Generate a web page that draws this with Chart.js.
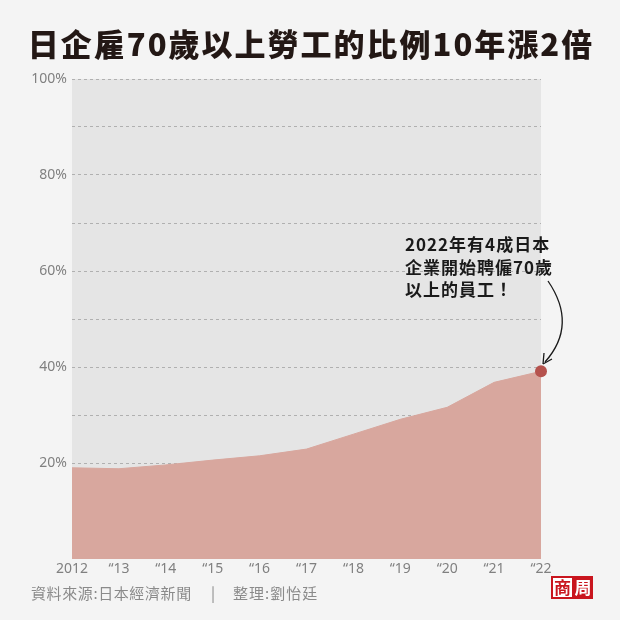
<!DOCTYPE html>
<html>
<head>
<meta charset="utf-8">
<script src="https://cdn.jsdelivr.net/npm/chart.js@4"></script>
<style>
  html, body { margin: 0; padding: 0; background: #f4f4f4; }
  #wrap { width: 620px; height: 620px; }
</style>
</head>
<body>
<div id="wrap"><canvas id="chart" width="620" height="620"></canvas></div>
<script>
// 資料
const years = ['2012', '\u201C13', '\u201C14', '\u201C15', '\u201C16', '\u201C17', '\u201C18', '\u201C19', '\u201C20', '\u201C21', '\u201C22'];
const ratio = [19.0, 18.8, 19.6, 20.6, 21.5, 22.9, 26.0, 29.1, 31.6, 36.8, 39.1];
const yTicks = [20, 40, 60, 80, 100];

const title = '日企雇70歲以上勞工的比例10年漲2倍';
const note = ['2022年有4成日本', '企業開始聘僱70歲', '以上的員工！'];
const source = '資料來源:日本經濟新聞';
const editor = '整理:劉怡廷';

const cjk = '"Noto Sans CJK TC", "Noto Sans", sans-serif';

function spacing(c, v) {
  if ('letterSpacing' in c) c.letterSpacing = v;
}

// 背景、標題、註解
const decor = {
  id: 'decor',
  beforeDraw(chart) {
    const c = chart.ctx, a = chart.chartArea;
    c.save();
    c.fillStyle = '#f4f4f4';
    c.fillRect(0, 0, chart.width, chart.height);
    c.fillStyle = '#e5e5e5';
    c.fillRect(a.left, a.top, a.right - a.left, a.bottom - a.top);
    c.restore();
  },
  afterDraw(chart) {
    const c = chart.ctx;
    c.save();
    c.fillStyle = '#231815';
    c.font = '900 31px ' + cjk;
    c.textAlign = 'left';
    c.textBaseline = 'middle';
    spacing(c, '2px');
    const tw = c.measureText(title).width;
    c.fillText(title, 310 - tw / 2 + 1, 44);

    // 註解文字
    c.font = 'bold 17px ' + cjk;
    c.fillStyle = '#1a1a1a';
    spacing(c, '1px');
    note.forEach((t, i) => c.fillText(t, 405, 245 + i * 22.5));

    // 箭頭
    c.strokeStyle = '#1a1a1a';
    c.lineWidth = 1.3;
    c.beginPath();
    c.moveTo(548, 281);
    c.quadraticCurveTo(578, 325, 545, 362);
    c.stroke();
    c.beginPath();
    c.moveTo(543, 364);
    c.lineTo(544, 353);
    c.moveTo(543, 364);
    c.lineTo(552, 359);
    c.stroke();

    // 來源
    c.font = '15px ' + cjk;
    c.fillStyle = '#8a8a8a';
    spacing(c, '0.6px');
    c.fillText(source, 31, 593);
    spacing(c, '0px');
    c.fillText('|', 211, 593);
    spacing(c, '1px');
    c.fillText(editor, 233, 593);
    spacing(c, '0px');

    // 商周 logo
    c.fillStyle = '#c9151e';
    c.fillRect(551, 576, 42, 23);
    c.fillStyle = '#ffffff';
    c.fillRect(553, 578, 19, 19);
    c.font = 'bold 17px ' + cjk;
    c.textAlign = 'center';
    c.fillStyle = '#c9151e';
    c.fillText('商', 562.5, 588);
    c.fillStyle = '#ffffff';
    c.fillText('周', 583, 588);
    c.restore();
  }
};

new Chart(document.getElementById('chart'), {
  type: 'line',
  data: {
    labels: years,
    datasets: [{
      data: ratio,
      fill: 'origin',
      backgroundColor: '#d8a79e',
      borderColor: '#d8a79e',
      borderWidth: 1,
      tension: 0,
      pointRadius: ratio.map((v, i) => i === ratio.length - 1 ? 6 : 0),
      pointBackgroundColor: '#b5524d',
      pointBorderWidth: 0
    }]
  },
  options: {
    responsive: false,
    animation: false,
    layout: { padding: { left: 0, right: 79, top: 79, bottom: 31 } },
    plugins: { legend: { display: false }, tooltip: { enabled: false } },
    scales: {
      x: {
        offset: false,
        border: { display: false },
        grid: { display: false, drawTicks: false },
        ticks: {
          color: '#808080',
          font: { family: '"Noto Sans", sans-serif', size: 14 },
          padding: 2,
          maxRotation: 0,
          autoSkip: false
        },
        afterFit: s => { s.height = 30; }
      },
      y: {
        min: 0,
        max: 100,
        z: 1,
        border: { display: false, dash: [3, 3] },
        grid: {
          color: ctx => ctx.tick.value === 0 ? 'rgba(0,0,0,0)' : '#b0b0b0',
          drawTicks: false,
          lineWidth: 1
        },
        ticks: {
          stepSize: 10,
          color: '#808080',
          font: { family: '"Noto Sans", sans-serif', size: 14 },
          padding: 5,
          callback: v => yTicks.includes(v) ? v + '%' : ''
        },
        afterFit: s => { s.width = 72; }
      }
    }
  },
  plugins: [decor]
});
</script>
</body>
</html>
